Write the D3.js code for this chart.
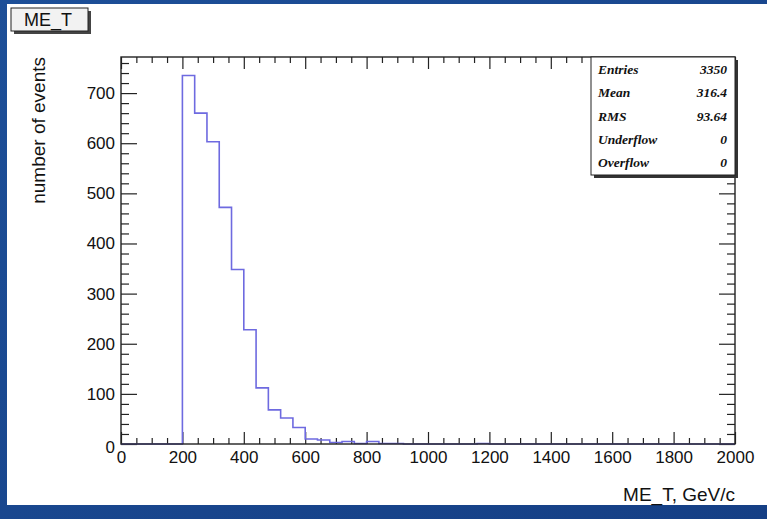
<!DOCTYPE html>
<meta charset="utf-8">
<script src="https://d3js.org/d3.v7.min.js"></script>
<style>
  body { margin: 0; }
  svg text { font-family: "Liberation Sans", Arial, sans-serif; }
</style>
<div class="chart"></div>
<script>
  // histogram of ME_T, 50 bins of 40 GeV from 0 to 2000
  const binLow = d3.range(0, 2000, 40);
  const counts = [0, 0, 0, 0, 0,
                  735, 660, 603, 472, 348, 228, 112, 68, 52, 33,
                  10, 8, 3, 5, 1, 5, 1, 1, 0, 0,
                  0, 0, 0, 0, 1, 0, 0, 0, 0, 0,
                  0, 0, 0, 0, 0, 0, 0, 0, 0, 0,
                  0, 0, 0, 0, 0];
  const xMajor = [0, 200, 400, 600, 800, 1000, 1200, 1400, 1600, 1800, 2000];
  const yMajor = [0, 100, 200, 300, 400, 500, 600, 700];
  const statNames = ["Entries", "Mean", "RMS", "Underflow", "Overflow"];
  const statValues = ["3350", "316.4", "93.64", "0", "0"];

  const width = 767, height = 519;
  const svg = d3.select('.chart').append('svg')
                .attr('width', width)
                .attr('height', height);

  // slide background
  const grad = svg.append('defs').append('linearGradient')
                  .attr('id', 'bg').attr('x1', 0).attr('y1', 0).attr('x2', 1).attr('y2', 1);
  grad.append('stop').attr('offset', 0).attr('stop-color', '#1d4f98');
  grad.append('stop').attr('offset', 1).attr('stop-color', '#153f85');
  svg.append('rect').attr('width', width).attr('height', height).attr('fill', 'url(#bg)');
  svg.append('rect').attr('x', 7).attr('y', 4).attr('width', 760).attr('height', 501).attr('fill', '#fff');

  const pLeft = 121, pRight = 735, pTop = 57, pBottom = 444;
  const x = d3.scaleLinear().domain([0, 2000]).range([pLeft, pRight]);
  const y = d3.scaleLinear().domain([0, 772]).range([pBottom, pTop]);

  const xMinor = d3.range(0, 2001, 50).filter(v => v % 200 !== 0);
  const yMinor = d3.range(0, 772, 20).filter(v => v % 100 !== 0);

  function styleAxis(g) {
    g.select('.domain').remove();
    g.selectAll('line').attr('stroke', '#222').attr('stroke-width', 1.2);
  }

  // bottom
  svg.append('g').attr('transform', `translate(0,${pBottom})`)
     .call(d3.axisBottom(x).tickValues(xMinor).tickSize(-6).tickFormat(''))
     .call(styleAxis);
  svg.append('g').attr('transform', `translate(0,${pBottom})`)
     .call(d3.axisBottom(x).tickValues(xMajor).tickSize(-12).tickPadding(7).tickFormat(d3.format('d')))
     .call(styleAxis)
     .selectAll('text').attr('font-size', 17).attr('fill', '#111');
  // top
  svg.append('g').attr('transform', `translate(0,${pTop})`)
     .call(d3.axisTop(x).tickValues(xMinor).tickSize(-6).tickFormat(''))
     .call(styleAxis);
  svg.append('g').attr('transform', `translate(0,${pTop})`)
     .call(d3.axisTop(x).tickValues(xMajor).tickSize(-12).tickFormat(''))
     .call(styleAxis);
  // left
  svg.append('g').attr('transform', `translate(${pLeft},0)`)
     .call(d3.axisLeft(y).tickValues(yMinor).tickSize(-8).tickFormat(''))
     .call(styleAxis);
  const yAx = svg.append('g').attr('transform', `translate(${pLeft},0)`)
     .call(d3.axisLeft(y).tickValues(yMajor).tickSize(-16).tickPadding(6).tickFormat(d3.format('d')))
     .call(styleAxis);
  yAx.selectAll('text').attr('font-size', 17).attr('fill', '#111');
  // the zero label sits a little low, as in the original
  yAx.selectAll('.tick').filter(d => d === 0).select('text').attr('dy', '0.5em');
  // right
  svg.append('g').attr('transform', `translate(${pRight},0)`)
     .call(d3.axisRight(y).tickValues(yMinor).tickSize(-8).tickFormat(''))
     .call(styleAxis);
  svg.append('g').attr('transform', `translate(${pRight},0)`)
     .call(d3.axisRight(y).tickValues(yMajor).tickSize(-16).tickFormat(''))
     .call(styleAxis);

  // histogram outline
  const pts = binLow.map((b, i) => [b, counts[i]]);
  pts.push([2000, counts[counts.length - 1]]);
  const line = d3.line().x(d => x(d[0])).y(d => y(d[1])).curve(d3.curveStepAfter);
  svg.append('path').datum(pts)
     .attr('d', line)
     .attr('fill', 'none')
     .attr('stroke', '#6e6ae0')
     .attr('stroke-width', 1.6);

  // frame
  svg.append('rect')
     .attr('x', pLeft).attr('y', pTop).attr('width', pRight - pLeft).attr('height', pBottom - pTop)
     .attr('fill', 'none').attr('stroke', '#222').attr('stroke-width', 1.4);

  // axis titles
  svg.append('text')
     .attr('transform', `translate(45,${pTop}) rotate(-90)`)
     .attr('text-anchor', 'end')
     .attr('font-size', 19)
     .attr('fill', '#111')
     .text('number of events');
  svg.append('text')
     .attr('x', pRight).attr('y', 501)
     .attr('text-anchor', 'end')
     .attr('font-size', 19)
     .attr('fill', '#111')
     .text('ME_T, GeV/c');

  // title box
  svg.append('rect').attr('x', 14).attr('y', 11).attr('width', 77).attr('height', 23).attr('fill', '#444');
  svg.append('rect').attr('x', 11).attr('y', 8).attr('width', 77).attr('height', 23)
     .attr('fill', '#f2f2f2').attr('stroke', '#222').attr('stroke-width', 1);
  svg.append('text').attr('x', 48).attr('y', 26).attr('text-anchor', 'middle')
     .attr('font-size', 18).attr('fill', '#111').text('ME_T');

  // stats box
  const sx = 591, sy = 57, sw = 144, sh = 118;
  svg.append('rect').attr('x', sx + 3).attr('y', sy + 3).attr('width', sw).attr('height', sh).attr('fill', '#333');
  svg.append('rect').attr('x', sx).attr('y', sy).attr('width', sw).attr('height', sh)
     .attr('fill', '#fff').attr('stroke', '#222').attr('stroke-width', 1);
  const rowY = d3.scalePoint().domain(statNames).range([sy + 13, sy + 106]);
  const rows = svg.append('g').selectAll('g').data(statNames).enter().append('g');
  rows.append('text')
      .attr('x', sx + 7).attr('y', d => rowY(d) + 4)
      .style('font-family', '"Liberation Serif", "DejaVu Serif", serif')
      .attr('font-style', 'italic').attr('font-weight', 'bold')
      .attr('font-size', 13.5).attr('fill', '#111')
      .text(d => d);
  rows.append('text')
      .attr('x', sx + sw - 8).attr('y', d => rowY(d) + 4)
      .attr('text-anchor', 'end')
      .style('font-family', '"Liberation Serif", "DejaVu Serif", serif')
      .attr('font-style', 'italic').attr('font-weight', 'bold')
      .attr('font-size', 13.5).attr('fill', '#111')
      .text((d, i) => statValues[i]);
</script>
